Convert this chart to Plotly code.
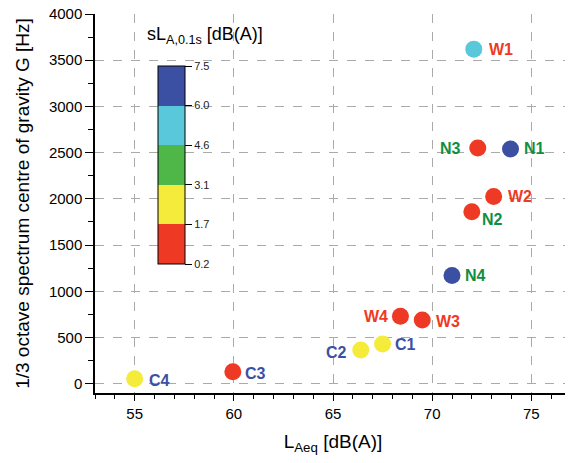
import plotly.graph_objects as go

labels = ["W1", "N3", "N1", "W2", "N2", "N4", "W4", "W3", "C1", "C2", "C3", "C4"]
laeq = [72.1, 72.3, 73.95, 73.1, 72.0, 71.0, 68.4, 69.5, 67.5, 66.4, 59.95, 55.0]
g_hz = [3620, 2550, 2540, 2025, 1860, 1170, 730, 690, 430, 365, 130, 55]
# colour band index of sL_A,0.1s (0: 0.2-1.7, 1: 1.7-3.1, 2: 3.1-4.6, 3: 4.6-6.0, 4: 6.0-7.5)
sl_band = [3, 0, 4, 0, 0, 4, 0, 0, 1, 1, 0, 1]
band_ticks = ["0.2", "1.7", "3.1", "4.6", "6.0", "7.5"]
# label offsets (pixels) relative to marker centre
label_dx = [27, -27, 24, 26, 21, 23, -24, 26, 23, -24, 23, 25]
label_dy = [0, 0, 0, 0, -8, 0, 0, -2, 0, -2, -2, -2]

RED, YEL, GRN, CYN, BLU = "#ee3a24", "#f5eb3a", "#4eb748", "#5ac8db", "#3c50a3"
group_col = {"W": "#ee3a24", "N": "#0f8f3f", "C": "#3c50a3"}

colorscale = []
cols = [RED, YEL, GRN, CYN, BLU]
for i, c in enumerate(cols):
    colorscale.append([i / 5, c])
    colorscale.append([(i + 1) / 5, c])

W, H = 565, 455          # page body has an 8 px margin
L, R, T, B = 87, 2, 6, 70
PW, PH = W - L - R, H - T - B
OX, OY = 8 + L, 8 + T    # page pixel of plot-area top-left

FONT = "Liberation Sans, Arial"
fig = go.Figure()
fig.add_trace(go.Scatter(
    x=laeq, y=g_hz, mode="markers",
    marker=dict(size=17, color=[b + 0.5 for b in sl_band], colorscale=colorscale,
                cmin=0, cmax=5, line=dict(width=0),
                colorbar=dict(
                    tickvals=list(range(6)), ticktext=band_ticks,
                    thickness=27, len=198, lenmode="pixels",
                    x=(158 - OX) / PW, xanchor="left", y=(OY + PH - 165) / PH, yanchor="middle",
                    xref="paper", yref="paper", xpad=0, ypad=0,
                    outlinecolor="black", outlinewidth=1,
                    ticks="outside", ticklen=7, tickcolor="black",
                    tickfont=dict(family=FONT, size=11, color="#222"),
                    title=dict(text=""))),
    showlegend=False, cliponaxis=False,
))

for lab, x, y, dx, dy in zip(labels, laeq, g_hz, label_dx, label_dy):
    fig.add_annotation(x=x, y=y, text=f"<b>{lab}</b>", showarrow=False,
                       xshift=dx, yshift=dy, xanchor="center", yanchor="middle",
                       font=dict(family=FONT, size=16, color=group_col[lab[0]]))

fig.add_annotation(text="sL<sub>A,0.1s</sub> [dB(A)]", xref="paper", yref="paper",
                   x=(145 - OX) / PW, y=(OY + PH - 35) / PH, xanchor="left", yanchor="middle",
                   showarrow=False, font=dict(family=FONT, size=18, color="black"))

axfont = dict(family=FONT, size=15, color="black")
fig.update_xaxes(range=[53, 77], tickvals=[55, 60, 65, 70, 75], ticks="outside", ticklen=6,
                 tickcolor="black", showline=True, linecolor="black", linewidth=1.5,
                 showgrid=True, gridcolor="#aaaaaa", griddash="dash", gridwidth=1,
                 zeroline=False, tickfont=axfont, automargin=False,
                 minor=dict(dtick=1, ticks="outside", ticklen=4, tickcolor="black", showgrid=False),
                 title=dict(text="L<sub>Aeq</sub> [dB(A)]", font=dict(family=FONT, size=19, color="black"), standoff=14))
fig.update_yaxes(range=[-100, 4000], tickvals=list(range(0, 4001, 500)), ticks="outside", ticklen=8,
                 tickcolor="black", showline=True, linecolor="black", linewidth=1.5,
                 showgrid=True, gridcolor="#aaaaaa", griddash="dash", gridwidth=1,
                 zeroline=False, tickfont=axfont, automargin=False, ticklabeloverflow="allow",
                 minor=dict(dtick=250, tick0=0, ticks="outside", ticklen=5, tickcolor="black", showgrid=False),
                 title=dict(text="1/3 octave spectrum centre of gravity G [Hz]", font=dict(family=FONT, size=19, color="black"), standoff=14))

fig.update_layout(width=W, height=H, margin=dict(l=L, r=R, t=T, b=B, autoexpand=False),
                  plot_bgcolor="white", paper_bgcolor="white")
fig.write_html("out.html")
